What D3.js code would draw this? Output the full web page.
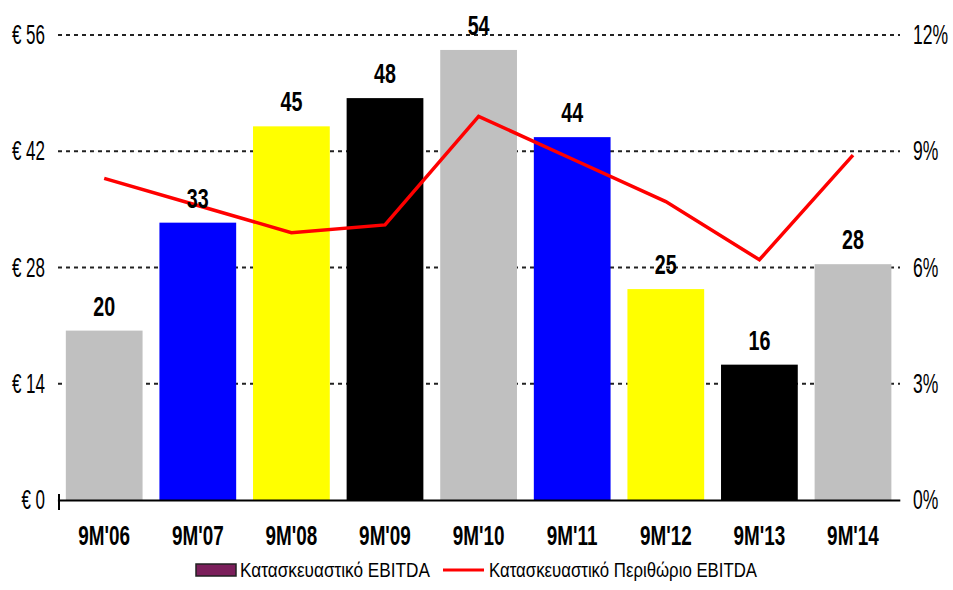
<!DOCTYPE html>
<html>
<head>
<meta charset="utf-8">
<script src="https://cdnjs.cloudflare.com/ajax/libs/d3/7.8.5/d3.min.js"></script>
<style>
body{margin:0;background:#fff;}
svg text{font-family:"Liberation Sans",Arial,sans-serif;fill:#000;}
</style>
</head>
<body>
<script>
// data
var categories = ["9M'06","9M'07","9M'08","9M'09","9M'10","9M'11","9M'12","9M'13","9M'14"];
var ebitda = [20.4, 33.4, 45.0, 48.4, 54.2, 43.7, 25.4, 16.3, 28.4];   // € m
var margin = [8.3, 7.6, 6.9, 7.1, 9.9, 8.8, 7.7, 6.2, 8.9];           // %
var leftTicks = [0,14,28,42,56];
var rightTicks = [0,3,6,9,12];
var legendNames = ["Κατασκευαστικό EBITDA","Κατασκευαστικό Περιθώριο EBITDA"];

var barColors = ["#c0c0c0","#0000ff","#ffff00","#000000"];

// squeeze text horizontally, the source picture looks stretched tall
squash = function(sel,k){
	sel.each(function(){
		var t = d3.select(this);
		var x0 = +t.attr("x") || 0;
		t.attr("x",x0/k).attr("transform","scale("+k+",1)");
	});
};

main = function(){
	var svg = d3.select("body").append("svg")
			.attr("width",953)
			.attr("height",590);

	var x = d3.scaleBand().domain(categories).range([57.4,899.8]).paddingInner(0.18).paddingOuter(0.09);
	var y = d3.scaleLinear().domain([0,56]).range([500,35]);
	var y2 = d3.scaleLinear().domain([0,12]).range([500,35]);

	//grid lines
	svg.append("g").selectAll("line")
			.data(leftTicks.slice(1))
			.enter().append("line")
			.attr("x1",58).attr("x2",900)
			.attr("y1",function(d){return y(d);})
			.attr("y2",function(d){return y(d);})
			.attr("stroke","#222")
			.attr("stroke-width",2)
			.attr("stroke-dasharray","4,4");

	//bars
	svg.append("g").selectAll("rect")
			.data(ebitda)
			.enter().append("rect")
			.attr("x",function(d,i){return x(categories[i]);})
			.attr("y",function(d){return y(d);})
			.attr("width",x.bandwidth())
			.attr("height",function(d){return y(0)-y(d);})
			.attr("fill",function(d,i){return barColors[i%4];});

	//x axis
	var xa = svg.append("g")
			.attr("transform","translate(0,500)")
			.call(d3.axisBottom(x).tickSize(0).tickSizeOuter(0).tickPadding(26));
	xa.select(".domain").attr("stroke","#000").attr("stroke-width",2);
	xa.selectAll("text").attr("font-size",27).attr("font-weight","bold").attr("font-family",null);
	squash(xa.selectAll("text"),0.7);
	svg.append("line").attr("x1",59).attr("x2",59).attr("y1",494).attr("y2",510)
			.attr("stroke","#000").attr("stroke-width",2);

	//left axis
	var la = svg.append("g")
			.attr("transform","translate(49,0)")
			.call(d3.axisLeft(y).tickValues(leftTicks).tickFormat(function(d){return "€ "+d;}).tickSize(0).tickPadding(4));
	la.select(".domain").remove();
	la.selectAll("text").attr("font-size",27).attr("font-family",null);
	squash(la.selectAll("text"),0.63);

	//right axis
	var ra = svg.append("g")
			.attr("transform","translate(908,0)")
			.call(d3.axisRight(y2).tickValues(rightTicks).tickFormat(function(d){return d+"%";}).tickSize(0).tickPadding(5));
	ra.select(".domain").remove();
	ra.selectAll("text").attr("font-size",27).attr("font-family",null);
	squash(ra.selectAll("text"),0.65);

	//margin line
	var line = d3.line()
			.x(function(d,i){return x(categories[i])+x.bandwidth()/2;})
			.y(function(d){return y2(d);});
	svg.append("path")
			.datum(margin)
			.attr("d",line)
			.attr("fill","none")
			.attr("stroke","#ff0000")
			.attr("stroke-width",3.5);

	//value labels
	var lab = svg.append("g").selectAll("text")
			.data(ebitda)
			.enter().append("text")
			.attr("x",function(d,i){return x(categories[i])+x.bandwidth()/2;})
			.attr("y",function(d){return y(d)-15;})
			.attr("text-anchor","middle")
			.attr("font-size",27)
			.attr("font-weight","bold")
			.text(function(d){return d3.format(".0f")(d);});
	squash(lab,0.73);

	//legend
	var lg = svg.append("g");
	lg.append("rect").attr("x",196).attr("y",564).attr("width",40).attr("height",12)
			.attr("fill","#7b1f5b").attr("stroke","#222").attr("stroke-width",1.5);
	var t1 = lg.append("text").attr("x",240).attr("y",577).attr("font-size",20).text(legendNames[0]);
	lg.append("line").attr("x1",443).attr("x2",484).attr("y1",570).attr("y2",570)
			.attr("stroke","#ff0000").attr("stroke-width",3);
	var t2 = lg.append("text").attr("x",489).attr("y",577).attr("font-size",20).text(legendNames[1]);
	squash(t1,0.86);
	squash(t2,0.84);
};

main();
</script>
</body>
</html>
